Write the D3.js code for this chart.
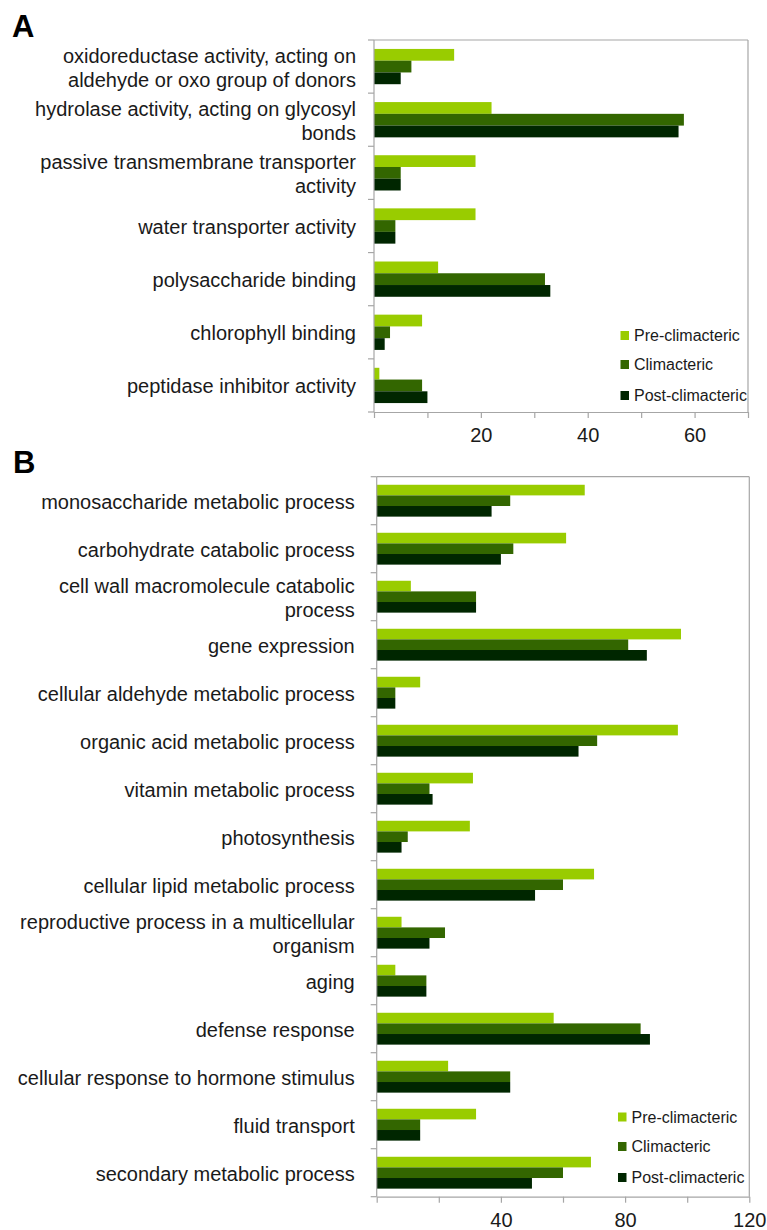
<!DOCTYPE html>
<html>
<head>
<meta charset="utf-8">
<script src="https://cdn.jsdelivr.net/npm/d3@7"></script>
<style>
  html, body { margin: 0; padding: 0; background: #ffffff; }
  svg { display: block; font-family: "Liberation Sans", Arial, Helvetica, sans-serif; }
</style>
</head>
<body>
<svg id="chart" width="767" height="1230"></svg>
<script>
// ---------- data ----------
const seriesNames = ["Pre-climacteric", "Climacteric", "Post-climacteric"];

const categoriesA = [
  "oxidoreductase activity, acting on\naldehyde or oxo group of donors",
  "hydrolase activity, acting on glycosyl\nbonds",
  "passive transmembrane transporter\nactivity",
  "water transporter activity",
  "polysaccharide binding",
  "chlorophyll binding",
  "peptidase inhibitor activity"
];
const preA  = [15, 22, 19, 19, 12, 9, 1];
const climA = [7, 58, 5, 4, 32, 3, 9];
const postA = [5, 57, 5, 4, 33, 2, 10];
const tickLabelsA = [20, 40, 60];

const categoriesB = [
  "monosaccharide metabolic process",
  "carbohydrate catabolic process",
  "cell wall macromolecule catabolic\nprocess",
  "gene expression",
  "cellular aldehyde metabolic process",
  "organic acid metabolic process",
  "vitamin metabolic process",
  "photosynthesis",
  "cellular lipid metabolic process",
  "reproductive process in a multicellular\norganism",
  "aging",
  "defense response",
  "cellular response to hormone stimulus",
  "fluid transport",
  "secondary metabolic process"
];
const preB  = [67, 61, 11, 98, 14, 97, 31, 30, 70, 8, 6, 57, 23, 32, 69];
const climB = [43, 44, 32, 81, 6, 71, 17, 10, 60, 22, 16, 85, 43, 14, 60];
const postB = [37, 40, 32, 87, 6, 65, 18, 8, 51, 17, 16, 88, 43, 14, 50];
const tickLabelsB = [40, 80, 120];

// ---------- styling ----------
const colors = ["#99cc00", "#336600", "#002600"];
const axisColor = "#a6a6a6";
const textColor = "#1a1a1a";

const svg = d3.select("#chart");

function drawPanel(cfg) {
  const { letter, letterPos, cats, series, xMax, minorStep, tickLabels,
          left, right, top, bottom, legendX, legendTextX, legendY, labelGap } = cfg;
  const g = svg.append("g");

  const x = d3.scaleLinear().domain([0, xMax]).range([left, right]);
  const y = d3.scaleBand().domain(d3.range(cats.length)).range([top, bottom]).padding(0);
  const ys = d3.scaleBand().domain(d3.range(series.length)).range([0, y.bandwidth()])
    .paddingInner(0).paddingOuter(0.76);

  // frame (top and right)
  g.append("line").attr("x1", left).attr("x2", right).attr("y1", top).attr("y2", top)
    .attr("stroke", axisColor).attr("stroke-width", 1.2);
  g.append("line").attr("x1", right).attr("x2", right).attr("y1", top).attr("y2", bottom)
    .attr("stroke", axisColor).attr("stroke-width", 1.2);

  // bars
  series.forEach((vals, si) => {
    g.append("g").selectAll("rect").data(vals).join("rect")
      .attr("x", x(0))
      .attr("y", (d, i) => y(i) + ys(si))
      .attr("width", d => x(d) - x(0))
      .attr("height", ys.bandwidth())
      .attr("fill", colors[si]);
  });

  // left axis line + category boundary ticks
  g.append("line").attr("x1", left).attr("x2", left).attr("y1", top).attr("y2", bottom)
    .attr("stroke", axisColor).attr("stroke-width", 1.2);
  const bounds = d3.range(cats.length + 1).map(i => top + i * y.step());
  g.append("g").selectAll("line").data(bounds).join("line")
    .attr("x1", left - 6).attr("x2", left).attr("y1", d => d).attr("y2", d => d)
    .attr("stroke", axisColor).attr("stroke-width", 1.2);

  // bottom axis
  const ax = d3.axisBottom(x)
    .tickValues(d3.range(0, xMax + 0.001, minorStep))
    .tickSizeInner(6).tickSizeOuter(0).tickPadding(10)
    .tickFormat(d => tickLabels.includes(d) ? d : "");
  const axg = g.append("g").attr("transform", `translate(0,${bottom})`).call(ax);
  axg.select(".domain").attr("stroke", axisColor).attr("stroke-width", 1.2);
  axg.selectAll(".tick line").attr("stroke", axisColor).attr("stroke-width", 1.2);
  axg.selectAll(".tick text").attr("fill", textColor)
    .style("font-size", "20px").style("font-family", '"Liberation Sans", Arial, sans-serif');

  // category labels
  cats.forEach((c, i) => {
    const lines = c.split("\n");
    const cy = y(i) + y.bandwidth() / 2 + 1;
    const t = g.append("text")
      .attr("text-anchor", "end")
      .attr("fill", textColor)
      .style("font-size", "20px");
    lines.forEach((ln, li) => {
      t.append("tspan")
        .attr("x", left - labelGap)
        .attr("y", cy + (li - (lines.length - 1) / 2) * 24)
        .attr("dominant-baseline", "central")
        .text(ln);
    });
  });

  // legend
  seriesNames.forEach((s, si) => {
    const ly = legendY[si];
    g.append("rect").attr("x", legendX).attr("y", ly - 4.5).attr("width", 8.5).attr("height", 9)
      .attr("fill", colors[si]);
    g.append("text").attr("x", legendTextX).attr("y", ly)
      .attr("dominant-baseline", "central")
      .attr("fill", textColor).style("font-size", "16px").text(s);
  });

  // panel letter
  g.append("text").attr("x", letterPos[0]).attr("y", letterPos[1])
    .attr("fill", "#000").style("font-size", "31px").style("font-weight", "bold").text(letter);
}

drawPanel({
  letter: "A", letterPos: [12, 37],
  cats: categoriesA, series: [preA, climA, postA],
  xMax: 70, minorStep: 10, tickLabels: tickLabelsA,
  left: 374, right: 748, top: 40, bottom: 412,
  legendX: 620.5, legendTextX: 634, legendY: [335.5, 364.5, 395.5], labelGap: 18
});

drawPanel({
  letter: "B", letterPos: [13, 473],
  cats: categoriesB, series: [preB, climB, postB],
  xMax: 120, minorStep: 20, tickLabels: tickLabelsB,
  left: 376.7, right: 749.3, top: 476.7, bottom: 1196.7,
  legendX: 618, legendTextX: 631.5, legendY: [1117, 1146.5, 1177.5], labelGap: 22
});
</script>
</body>
</html>
